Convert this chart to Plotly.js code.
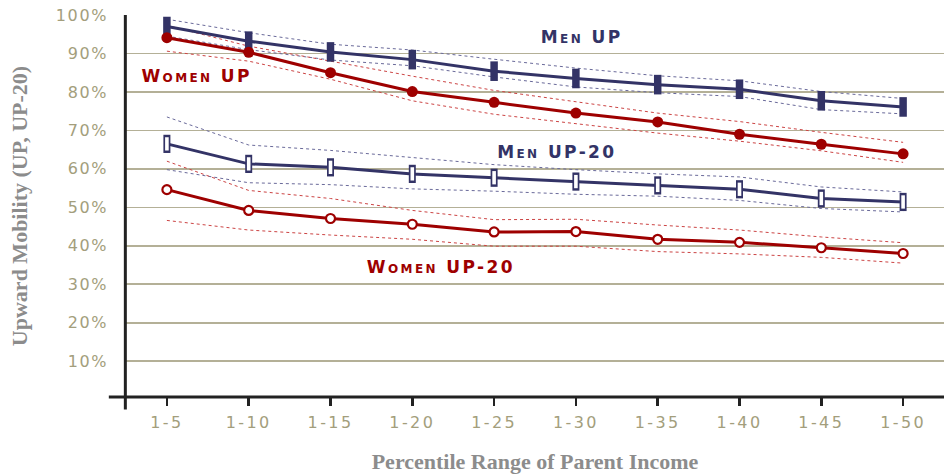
<!DOCTYPE html>
<html>
<head>
<meta charset="utf-8">
<script src="https://cdn.plot.ly/plotly-3.0.1.min.js"></script>
<style>
  html, body { margin: 0; padding: 0; background: #fff; }
  #chart { width: 944px; height: 474px; }
  #chart .xtick text { letter-spacing: 2.4px; }
  #chart .ytick text { letter-spacing: 1.6px; }
  #chart .annotation-text { letter-spacing: 2.4px; }
</style>
</head>
<body>
<div id="chart"></div>
<script>
// ---- data ----
const categories = ['1-5','1-10','1-15','1-20','1-25','1-30','1-35','1-40','1-45','1-50'];

const menUP      = [97.0, 93.2, 90.4, 88.4, 85.4, 83.5, 81.9, 80.7, 77.7, 76.1];
const menUPHigh  = [98.9, 95.4, 92.4, 90.9, 88.5, 86.2, 84.2, 82.9, 80.1, 78.3];
const menUPLow   = [94.5, 91.0, 88.3, 86.8, 83.9, 81.3, 79.8, 78.8, 75.4, 74.3];

const womenUP     = [94.1, 90.3, 85.0, 80.1, 77.3, 74.5, 72.2, 69.0, 66.4, 63.9];
const womenUPHigh = [97.3, 91.9, 88.0, 84.1, 80.4, 77.5, 74.5, 72.3, 69.5, 66.9];
const womenUPLow  = [90.6, 88.0, 83.3, 77.7, 74.2, 71.8, 69.3, 67.2, 64.7, 61.7];

const menUP20     = [66.5, 61.3, 60.4, 58.7, 57.7, 56.7, 55.7, 54.7, 52.3, 51.4];
const menUP20High = [73.5, 66.2, 64.8, 63.0, 61.1, 59.8, 58.7, 57.9, 55.3, 54.0];
const menUP20Low  = [59.8, 56.4, 55.9, 54.8, 54.2, 53.4, 52.9, 51.8, 49.7, 48.8];

const womenUP20     = [54.6, 49.2, 47.1, 45.6, 43.6, 43.7, 41.7, 40.9, 39.5, 38.0];
const womenUP20High = [62.0, 54.4, 52.3, 49.2, 46.8, 46.9, 45.4, 44.1, 42.3, 40.8];
const womenUP20Low  = [46.6, 44.1, 42.8, 41.7, 39.9, 39.9, 38.5, 37.9, 37.0, 35.5];

const yTickVals = [10, 20, 30, 40, 50, 60, 70, 80, 90, 100];
const yTickText = ['10%','20%','30%','40%','50%','60%','70%','80%','90%','100%'];

const seriesLabels = ['Men UP', 'Women UP', 'Men UP-20', 'Women UP-20'];

// ---- styles ----
const NAVY = '#333366';
const RED = '#9e0000';
const NAVY_DOT = '#6a6a9a';
const RED_DOT = '#cc4444';
const LABEL_FONT = 'DejaVu Sans, sans-serif';

function band(y, color) {
  return { x: categories, y: y, type: 'scatter', mode: 'lines',
           line: { color: color, width: 1, dash: 'dot' }, hoverinfo: 'skip', showlegend: false };
}

const traces = [
  band(menUPHigh, NAVY_DOT), band(menUPLow, NAVY_DOT),
  band(womenUPHigh, RED_DOT), band(womenUPLow, RED_DOT),
  band(menUP20High, NAVY_DOT), band(menUP20Low, NAVY_DOT),
  band(womenUP20High, RED_DOT), band(womenUP20Low, RED_DOT),
  // Men UP-20 : open tall rectangles
  { x: categories, y: menUP20, type: 'scatter', mode: 'lines+markers', showlegend: false,
    line: { color: NAVY, width: 3 },
    marker: { symbol: 'line-ns-open', size: 13, color: NAVY, line: { width: 7, color: NAVY } } },
  { x: categories, y: menUP20, type: 'scatter', mode: 'markers', showlegend: false, hoverinfo: 'skip',
    marker: { symbol: 'line-ns-open', size: 9.5, color: '#ffffff', line: { width: 3.6, color: '#ffffff' } } },
  // Women UP-20 : open circles
  { x: categories, y: womenUP20, type: 'scatter', mode: 'lines+markers', showlegend: false,
    line: { color: RED, width: 3 },
    marker: { symbol: 'circle', size: 9, color: '#ffffff', line: { width: 2.2, color: RED } } },
  // Men UP : filled tall rectangles
  { x: categories, y: menUP, type: 'scatter', mode: 'lines+markers', showlegend: false,
    line: { color: NAVY, width: 3 },
    marker: { symbol: 'line-ns-open', size: 14, color: NAVY, line: { width: 7.5, color: NAVY } } },
  // Women UP : filled circles
  { x: categories, y: womenUP, type: 'scatter', mode: 'lines+markers', showlegend: false,
    line: { color: RED, width: 3 },
    marker: { symbol: 'circle', size: 11, color: RED, line: { width: 0 } } }
];

const labelFont = (c) => ({ family: LABEL_FONT, size: 17, color: c, weight: 'bold', variant: 'small-caps' });
const tickFont = { family: LABEL_FONT, size: 16, color: '#a39e7c' };
const titleFont = { family: 'Liberation Serif, serif', size: 22, color: '#8c8c8c', weight: 'bold' };

const layout = {
  width: 944, height: 474,
  paper_bgcolor: '#ffffff', plot_bgcolor: '#ffffff',
  margin: { l: 126, r: 0, t: 15, b: 76.5, pad: 0 },
  showlegend: false,
  xaxis: {
    type: 'category', range: [-0.5, 9.5], fixedrange: true,
    showgrid: false, zeroline: false, showline: false,
    ticks: 'outside', ticklen: 8, tickwidth: 2.5, tickcolor: '#222222',
    tickfont: tickFont,
    ticklabelstandoff: 3,
    title: { text: 'Percentile Range of Parent Income', standoff: 23, font: titleFont }
  },
  yaxis: {
    range: [0.7, 100], fixedrange: true,
    tickvals: yTickVals, ticktext: yTickText,
    showgrid: true, gridcolor: '#b4b097', gridwidth: 1.6,
    zeroline: false, showline: false, ticks: '',
    ticklabelstandoff: 17,
    tickfont: tickFont,
    title: { text: 'Upward Mobility (UP, UP-20)', standoff: 28, font: titleFont }
  },
  shapes: [
    // x axis line (overhangs to the left of the y axis)
    { type: 'line', xref: 'paper', yref: 'paper', x0: -0.021, x1: 1, y0: 0, y1: 0,
      line: { color: '#222222', width: 3 }, layer: 'above' },
    // y axis line (overhangs below the x axis)
    { type: 'line', xref: 'paper', yref: 'paper', x0: -0.0008, x1: -0.0008, y0: -0.033, y1: 1.0,
      line: { color: '#222222', width: 3 }, layer: 'above' }
  ],
  annotations: [
    { text: seriesLabels[0], xref: 'paper', yref: 'y', x: 0.557, y: 94.3, xanchor: 'center', showarrow: false, font: labelFont(NAVY) },
    { text: seriesLabels[1], xref: 'paper', yref: 'y', x: 0.0856, y: 84.2, xanchor: 'center', showarrow: false, font: labelFont(RED) },
    { text: seriesLabels[2], xref: 'paper', yref: 'y', x: 0.527, y: 64.4, xanchor: 'center', showarrow: false, font: labelFont(NAVY) },
    { text: seriesLabels[3], xref: 'paper', yref: 'y', x: 0.385, y: 34.6, xanchor: 'center', showarrow: false, font: labelFont(RED) }
  ]
};

Plotly.newPlot('chart', traces, layout, { staticPlot: true, displayModeBar: false });
</script>
</body>
</html>
